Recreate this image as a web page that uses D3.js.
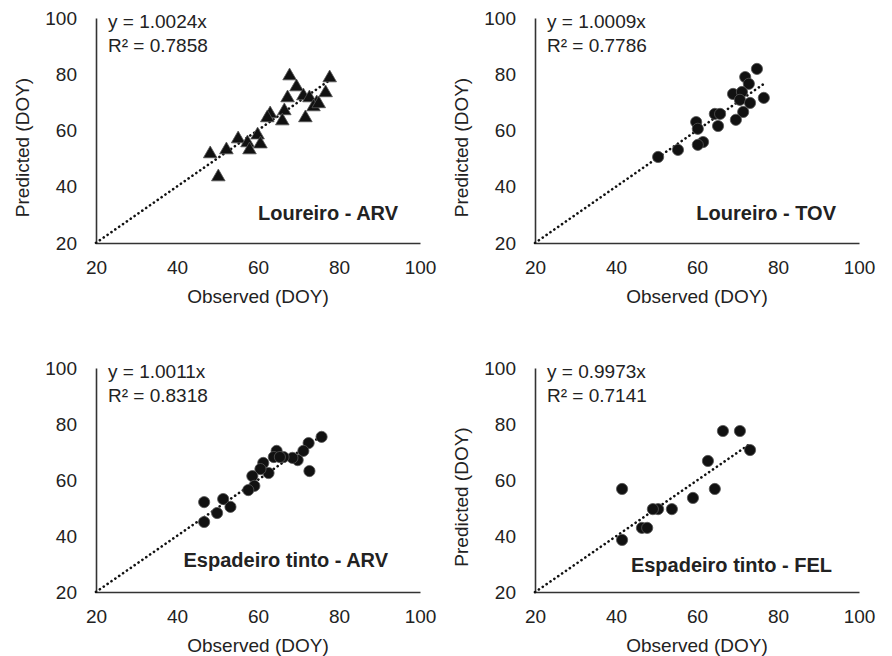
<!DOCTYPE html>
<html>
<head>
<meta charset="utf-8">
<script src="https://cdn.jsdelivr.net/npm/d3@7/dist/d3.min.js"></script>
<style>
  body { margin: 0; background: #fff; }
  svg text { font-family: "Liberation Sans", Arial, sans-serif; fill: #222; }
</style>
</head>
<body>
<svg id="chart" width="892" height="656"></svg>
<script>
// axis ticks shared by all four panels
var tickValues = [20, 40, 60, 80, 100];

// Loureiro - ARV (triangles)
var arvLoureiroObs  = [67.8, 77.7, 69.5, 67.3, 71.2, 72.7, 76.7, 74.5, 73.7, 75, 71.7, 66.5, 66, 63, 62.3, 59.9, 60.6, 55.1, 57.4, 57.9, 52.2, 48.2, 50.2];
var arvLoureiroPred = [79.4, 78.7, 75.5, 71.6, 72.3, 71.6, 73.4, 69.8, 68.4, 69.5, 64.5, 67, 63.4, 65.9, 64.5, 58.4, 55.2, 57, 55.6, 53.1, 53.1, 51.7, 43.5];

// Loureiro - TOV
var tovLoureiroObs  = [74.8, 71.9, 72.8, 68.9, 71.1, 70.6, 73.1, 76.5, 71.4, 69.6, 64.4, 65.7, 65.2, 59.8, 60.2, 61.5, 60.2, 55.3, 50.4];
var tovLoureiroPred = [81.9, 79, 76.6, 73, 73.7, 70.9, 69.8, 71.6, 66.6, 63.8, 65.9, 65.9, 61.6, 63, 60.6, 55.9, 54.9, 53.1, 50.6];

// Espadeiro tinto - ARV
var arvEspadeiroObs  = [75.7, 72.5, 71.2, 69.8, 68.5, 66.3, 64.6, 63.9, 65.4, 61.3, 62.6, 60.6, 72.7, 58.6, 59.1, 57.6, 53.2, 51.4, 49.9, 46.7, 46.7];
var arvEspadeiroPred = [75.4, 73.2, 70.4, 67.1, 67.9, 68.2, 70.4, 68.2, 68.2, 66.1, 62.5, 63.9, 63.2, 61.4, 57.9, 56.4, 50.4, 53.2, 48.2, 52.1, 45];

// Espadeiro tinto - FEL
var felEspadeiroObs  = [66.4, 70.6, 73.1, 62.7, 64.4, 59, 53.8, 50.4, 49.1, 41.5, 46.4, 47.7, 41.5];
var felEspadeiroPred = [77.5, 77.5, 70.7, 66.8, 56.8, 53.6, 49.6, 49.6, 49.6, 56.8, 42.9, 42.9, 38.6];

var slopes = [1.0024, 1.0009, 1.0011, 0.9973];
var r2s = ["0.7858", "0.7786", "0.8318", "0.7141"];
var titles = ["Loureiro - ARV", "Loureiro - TOV", "Espadeiro tinto - ARV", "Espadeiro tinto - FEL"];

var svg = d3.select("#chart");

var panels = [
  { obs: arvLoureiroObs, pred: arvLoureiroPred, x0: 96, x1: 420, yTop: 18, yBot: 243, tri: true, yTitle: true, titleX: 398, titleY: 220 },
  { obs: tovLoureiroObs, pred: tovLoureiroPred, x0: 535, x1: 859, yTop: 18, yBot: 243, tri: false, yTitle: true, titleX: 836, titleY: 220 },
  { obs: arvEspadeiroObs, pred: arvEspadeiroPred, x0: 96, x1: 420, yTop: 368, yBot: 592, tri: false, yTitle: false, titleX: 388, titleY: 567 },
  { obs: felEspadeiroObs, pred: felEspadeiroPred, x0: 535, x1: 859, yTop: 368, yBot: 592, tri: false, yTitle: true, titleX: 832, titleY: 572 }
];

panels.forEach(function (p, i) {
  var x = d3.scaleLinear().domain([20, 100]).range([p.x0, p.x1]);
  var y = d3.scaleLinear().domain([20, 100]).range([p.yBot, p.yTop]);
  var g = svg.append("g");

  // axes: no tick marks, just labels
  var xAxis = g.append("g")
    .attr("transform", "translate(0," + p.yBot + ")")
    .call(d3.axisBottom(x).tickValues(tickValues).tickSize(0).tickPadding(18));
  var yAxis = g.append("g")
    .attr("transform", "translate(" + p.x0 + ",0)")
    .call(d3.axisLeft(y).tickValues(tickValues).tickSize(0).tickPadding(19));
  [xAxis, yAxis].forEach(function (a) {
    a.select(".domain").attr("stroke", "#333").attr("stroke-width", 1.6);
    a.selectAll("text").style("font-size", "19px").attr("fill", "#222");
  });

  // dotted trendline through origin, from 20 to max observed
  var xmax = d3.max(p.obs);
  g.append("line")
    .attr("x1", x(20)).attr("y1", y(20 * slopes[i]))
    .attr("x2", x(xmax)).attr("y2", y(xmax * slopes[i]))
    .attr("stroke", "#111").attr("stroke-width", 2.6)
    .attr("stroke-linecap", "round")
    .attr("stroke-dasharray", "0.1 4.6");

  var pts = p.obs.map(function (d, k) { return [d, p.pred[k]]; });
  if (p.tri) {
    g.selectAll(".pt").data(pts).enter().append("path")
      .attr("d", d3.symbol().type(d3.symbolTriangle).size(80))
      .attr("transform", function (d) { return "translate(" + x(d[0]) + "," + y(d[1]) + ")"; })
      .attr("fill", "#111").attr("stroke", "#555").attr("stroke-width", 0.8);
  } else {
    g.selectAll(".pt").data(pts).enter().append("circle")
      .attr("cx", function (d) { return x(d[0]); })
      .attr("cy", function (d) { return y(d[1]); })
      .attr("r", 5.6)
      .attr("fill", "#111").attr("stroke", "#555").attr("stroke-width", 0.8);
  }

  // equation + R²
  g.append("text").attr("x", p.x0 + 12).attr("y", p.yTop + 10)
    .style("font-size", "19px").text("y = " + slopes[i].toFixed(4) + "x");
  g.append("text").attr("x", p.x0 + 12).attr("y", p.yTop + 34)
    .style("font-size", "19px").text("R\u00b2 = " + r2s[i]);

  // panel title (bold, right side)
  g.append("text").attr("x", p.titleX).attr("y", p.titleY)
    .attr("text-anchor", "end")
    .style("font-size", "20px").style("font-weight", "bold").attr("fill", "#111")
    .text(titles[i]);

  // axis titles
  g.append("text").attr("x", (p.x0 + p.x1) / 2).attr("y", p.yBot + 60)
    .attr("text-anchor", "middle").style("font-size", "19px")
    .text("Observed (DOY)");
  if (p.yTitle) {
    g.append("text")
      .attr("transform", "translate(" + (p.x0 - 67) + "," + ((p.yTop + p.yBot) / 2 + 17) + ") rotate(-90)")
      .attr("text-anchor", "middle").style("font-size", "19px")
      .text("Predicted (DOY)");
  }
});
</script>
</body>
</html>
